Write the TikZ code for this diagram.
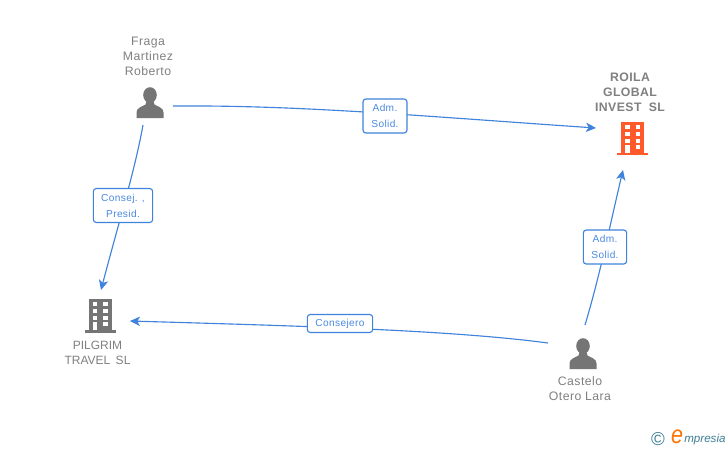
\documentclass[tikz,border=0pt]{standalone}
\usepackage{fontspec}
\setmainfont{Liberation Sans}
\newfontfamily\spacedfont[LetterSpace=3.5]{Liberation Sans}
\usetikzlibrary{arrows.meta}
\definecolor{conn}{HTML}{3F83DC}
\definecolor{lab}{HTML}{4A8AE0}
\definecolor{gr}{HTML}{757575}
\definecolor{txt}{HTML}{808080}
\definecolor{orng}{HTML}{FF5A2C}
\definecolor{teal}{HTML}{3E7F95}
\tikzset{
  conline/.style={draw=conn,line width=0.85pt,-{Stealth[length=7.5pt,width=7pt,inset=2pt]}},
  tagbox/.style={draw=conn,line width=0.85pt,rounded corners=2.2pt,fill=white,text=lab,font=\spacedfont\fontsize{7.6}{12}\selectfont,align=center,inner sep=0pt},
  pname/.style={text=txt,font=\spacedfont\fontsize{9.2}{11.2}\selectfont,align=center,inner sep=0pt},
  capname/.style={text=txt,font=\fontsize{9}{11.2}\selectfont,align=center,inner sep=0pt},
  bname/.style={text=txt,font=\spacedfont\fontsize{9.2}{11.2}\bfseries\selectfont,align=center,inner sep=0pt},
  person/.pic={
    \fill[gr] (0,-8) ellipse (6.8 and 7.8);
    \fill[gr] (-13.5,15) -- (-13.5,9.5) .. controls (-13.5,5) and (-9,4) .. (-4.5,1.5) -- (-3.5,-2) -- (3.5,-2) -- (4.5,1.5) .. controls (9,4) and (13.5,5) .. (13.5,9.5) -- (13.5,15) -- cycle;
  },
  building/.pic={
    \fill[pic actions] (-11.5,-16.5) rectangle (11.5,15);
    \fill[pic actions] (-15.5,14.5) rectangle (15.5,17);
    \foreach \yy in {-11.5,-4.5,2.5}{
      \fill[white] (-7.5,\yy-2) rectangle (-3,\yy+2);
      \fill[white] (3,\yy-2) rectangle (7.5,\yy+2);
    }
    \fill[white] (-7.5,6.8) rectangle (-3,14.5);
    \fill[white] (3,6.8) rectangle (7.5,10.8);
  }
}
\begin{document}
\begin{tikzpicture}[x=0.75pt,y=-0.75pt]
\useasboundingbox (0,0) rectangle (728,450);
\fill[white] (0,0) rectangle (728,450);
% end points
\coordinate (fragaE) at (173,106);
\coordinate (fragaS) at (143,125);
\coordinate (roilaW) at (596,128);
\coordinate (roilaS) at (623,170);
\coordinate (pilgE) at (130,321);
\coordinate (pilgN) at (101,290);
\coordinate (casW) at (548,343);
\coordinate (casN) at (585,325);
% connectors
\draw[conline] (fragaE) .. controls (300,105) and (420,116) .. (roilaW);
\draw[conline] (fragaS) .. controls (135,170) and (118,225) .. (pilgN);
\draw[conline] (casW) .. controls (450,330) and (300,326) .. (pilgE);
\draw[conline] (casN) .. controls (600,275) and (610,225) .. (roilaS);
% labels
\node[tagbox,minimum width=33pt,minimum height=25.5pt] (t1) at (385,116) {Adm.\\Solid.};
\node[tagbox,minimum width=44.5pt,minimum height=25.5pt] (t2) at (123,205.5) {Consej. ,\\Presid.};
\node[tagbox,minimum width=49pt,minimum height=13.5pt] (t3) at (340,323.5) {Consejero};
\node[tagbox,minimum width=32.5pt,minimum height=25.5pt] (t4) at (605,247) {Adm.\\Solid.};
% icons
\pic at (150,103) {person};
\pic at (583,354) {person};
\pic[fill=orng] at (632.5,138) {building};
\pic[fill=gr] at (100,315.5) {building};
% names
\node[pname] (fraga) at (148,56) {Fraga\\Martinez\\Roberto};
\node[bname] (roila) at (630,92.5) {ROILA\\GLOBAL\\INVEST\hspace{0.6em}SL};
\node[capname] (pilgrim) at (97.5,353) {PILGRIM\\TRAVEL\hspace{0.45em}SL};
\node[pname] (castelo) at (580,388.5) {Castelo\\Otero Lara};
% logo
\node[text=teal,inner sep=0pt,font=\fontsize{14}{14}\selectfont] (copy) at (658,439) {©};
\node[text=orange!90!red,inner sep=0pt,xscale=0.85,font=\fontsize{19}{19}\itshape\selectfont] (elogo) at (677,436.5) {e};
\node[text=teal,inner sep=0pt,anchor=west,font=\fontsize{8.7}{10}\itshape\selectfont] (mlogo) at (684,439) {mpresia};
\end{tikzpicture}
\end{document}
